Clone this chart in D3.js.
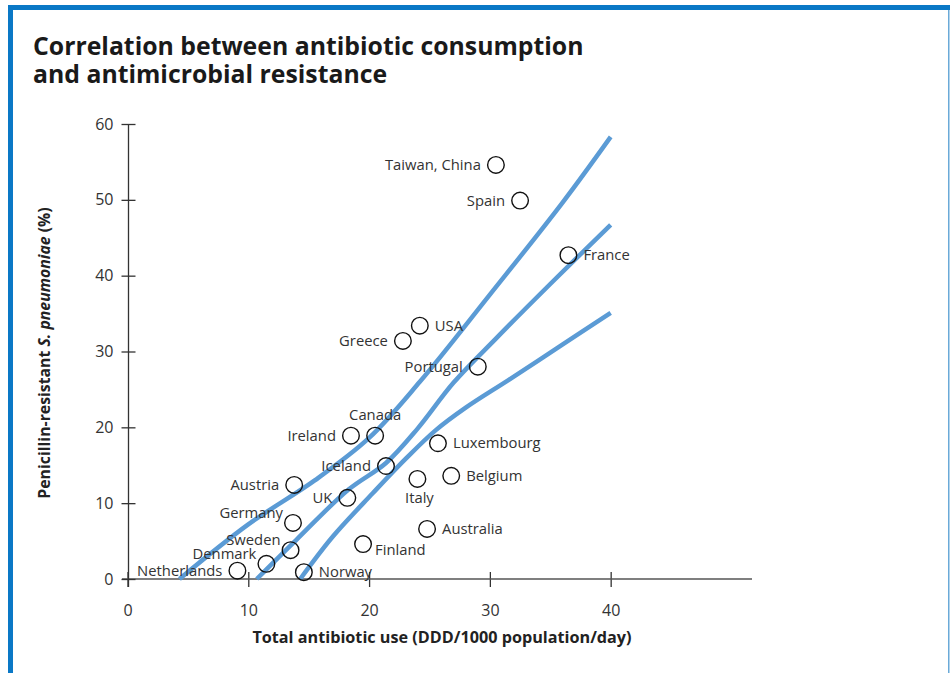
<!DOCTYPE html>
<html><head><meta charset="utf-8">
<script src="https://cdn.jsdelivr.net/npm/d3@7/dist/d3.min.js"></script>
<style>
body{margin:0;background:#fff;}
svg{display:block;}
</style></head>
<body>
<script>
// ---- data ----
const countries = ["Taiwan, China","Spain","France","USA","Greece","Portugal","Canada","Ireland","Luxembourg","Iceland","Italy","Belgium","Austria","UK","Germany","Australia","Sweden","Finland","Denmark","Netherlands","Norway"];
const antibioticUse = [30.5,32.5,36.5,24.2,22.8,29.0,20.5,18.5,25.7,21.4,24.0,26.8,13.8,18.2,13.7,24.8,13.5,19.5,11.5,9.1,14.6];
const resistance   = [54.6,49.9,42.7,33.4,31.4,28.0,18.9,18.9,17.9,14.9,13.2,13.6,12.4,10.7,7.4,6.6,3.8,4.6,2.0,1.1,0.9];
const labelSide    = ["left","left","right","right","left","left","above","left","right","left","below","right","left","left","upleft","right","upleft","downright","upleft","left","right"];

const upperBand  = [[4.3,0],[10,7.2],[15.5,13.0],[20,18.6],[24.2,26.0],[30,37.5],[36,49.6],[40,58.3]];
const fitLine    = [[10.7,0],[14,5.2],[18.3,11.8],[21.4,15.3],[24,19.8],[27,25.9],[30.5,31.7],[35,38.9],[40,46.7]];
const lowerBand  = [[14.3,0],[17,5.6],[20.3,11.3],[23,15.8],[25.5,19.6],[28,22.6],[31.6,26.3],[36,30.9],[40,35.1]];

const xTicks = [0,10,20,30,40];
const yTicks = [0,10,20,30,40,50,60];

const titleLines = ["Correlation between antibiotic consumption","and antimicrobial resistance"];
const xTitle = "Total antibiotic use (DDD/1000 population/day)";

// ---- drawing ----
const W = 950, H = 673;
const svg = d3.select("body").append("svg").attr("width", W).attr("height", H);
const font = "'Open Sans', 'Noto Sans', sans-serif";

// frame
svg.append("rect").attr("x",8).attr("y",5).attr("width",W-8).attr("height",5).attr("fill","#0a78c6");
svg.append("rect").attr("x",8).attr("y",5).attr("width",5).attr("height",H-5).attr("fill","#0a78c6");
svg.append("rect").attr("x",948).attr("y",10).attr("width",1.5).attr("height",H-10).attr("fill","#6aaad8");

// title
svg.append("g").selectAll("text").data(titleLines).join("text")
  .attr("x",33).attr("y",(d,i)=>55+i*28)
  .attr("font-family",font).attr("font-weight",700).attr("font-size",24.8)
  .attr("fill","#1a1a1a").text(d=>d);

const x = d3.scaleLinear().domain([0,51.7]).range([127.5,752]);
const y = d3.scaleLinear().domain([0,60]).range([579,124]);

// axes
const axisColor = "#333";
const gx = svg.append("g").attr("transform",`translate(0,${y(0)})`)
  .call(d3.axisBottom(x).tickValues(xTicks).tickSize(0).tickPadding(26).tickFormat(d3.format("d")));
gx.select(".domain").remove();
gx.selectAll(".tick line").attr("y1",-7).attr("y2",8).attr("stroke",axisColor).attr("stroke-width",1.3);
gx.selectAll("text").attr("font-family",font).attr("font-size",16).attr("fill","#333");
svg.append("line").attr("x1",122).attr("x2",x.range()[1]).attr("y1",y(0)).attr("y2",y(0))
  .attr("stroke","#555").attr("stroke-width",1.5);

const gy = svg.append("g").attr("transform",`translate(${x(0)+1},0)`)
  .call(d3.axisLeft(y).tickValues(yTicks).tickSize(0).tickPadding(15).tickFormat(d3.format("d")));
gy.select(".domain").remove();
gy.selectAll(".tick line").attr("x1",-7).attr("x2",7).attr("stroke",axisColor).attr("stroke-width",1.3);
gy.selectAll("text").attr("font-family",font).attr("font-size",16).attr("fill","#333");
svg.append("line").attr("x1",x(0)+1).attr("x2",x(0)+1).attr("y1",y(60)).attr("y2",y(0)+8)
  .attr("stroke",axisColor).attr("stroke-width",1.3);

// axis titles
svg.append("text").attr("x",442).attr("y",643).attr("text-anchor","middle")
  .attr("font-family",font).attr("font-weight",700).attr("font-size",16.2).attr("fill","#222").text(xTitle);
const yt = svg.append("text").attr("transform","translate(50,353) rotate(-90)").attr("text-anchor","middle")
  .attr("font-family",font).attr("font-weight",700).attr("font-size",15.8).attr("fill","#222");
yt.append("tspan").text("Penicillin-resistant ");
yt.append("tspan").attr("font-style","italic").text("S. pneumoniae");
yt.append("tspan").text(" (%)");

// lines
const line = d3.line().x(d=>x(d[0])).y(d=>y(d[1])).curve(d3.curveCatmullRom.alpha(0.5));
svg.append("g").selectAll("path").data([upperBand, fitLine, lowerBand]).join("path")
  .attr("d",line).attr("fill","none").attr("stroke","#5b9bd5").attr("stroke-width",4.5)
  .attr("stroke-linecap","butt");

// points
const pts = countries.map((c,i)=>({c, u:antibioticUse[i], r:resistance[i], side:labelSide[i]}));
svg.append("g").selectAll("circle").data(pts).join("circle")
  .attr("cx",d=>x(d.u)).attr("cy",d=>y(d.r)).attr("r",8.3)
  .attr("fill","none").attr("stroke","#111").attr("stroke-width",1.4);

const place = {
  left:      {dx:-15, dy:5,  a:"end"},
  right:     {dx:15,  dy:5,  a:"start"},
  above:     {dx:0,   dy:-16,a:"middle"},
  below:     {dx:2,   dy:24, a:"middle"},
  upleft:    {dx:-10, dy:-5, a:"end"},
  downright: {dx:12,  dy:11, a:"start"}
};
svg.append("g").selectAll("text").data(pts).join("text")
  .attr("x",d=>x(d.u)+place[d.side].dx).attr("y",d=>y(d.r)+place[d.side].dy)
  .attr("text-anchor",d=>place[d.side].a)
  .attr("font-family",font).attr("font-size",14.8).attr("fill","#333").text(d=>d.c);
</script>
</body></html>
